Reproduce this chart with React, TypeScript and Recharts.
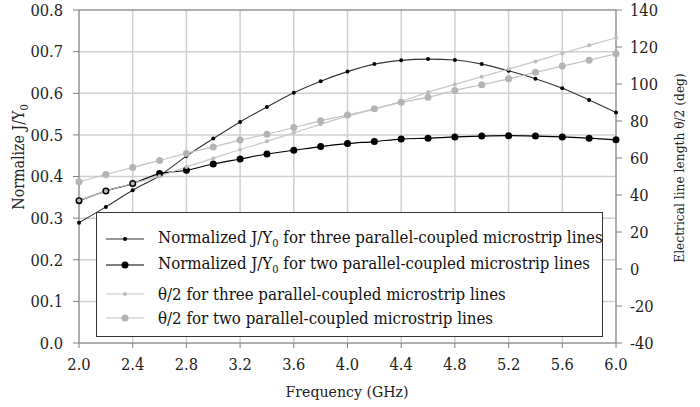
import React from "react";
import {
  LineChart,
  Line,
  XAxis,
  YAxis,
  CartesianGrid,
  ReferenceLine,
} from "recharts";

const FONT = "'DejaVu Serif Condensed', 'DejaVu Serif', serif";

// frequency points (GHz)
const freq = [2.0, 2.2, 2.4, 2.6, 2.8, 3.0, 3.2, 3.4, 3.6, 3.8, 4.0, 4.2, 4.4, 4.6, 4.8, 5.0, 5.2, 5.4, 5.6, 5.8, 6.0];

// normalized J/Y0 (left axis)
const jThree = [0.289, 0.327, 0.367, 0.402, 0.449, 0.491, 0.531, 0.567, 0.601, 0.629, 0.652, 0.67, 0.679, 0.682, 0.68, 0.67, 0.654, 0.635, 0.612, 0.584, 0.554];
const jTwo = [0.342, 0.365, 0.383, 0.407, 0.415, 0.43, 0.442, 0.454, 0.463, 0.472, 0.479, 0.484, 0.49, 0.492, 0.495, 0.497, 0.498, 0.497, 0.495, 0.492, 0.488];

// theta/2 in degrees (right axis)
const thetaThree = [37.0, 42.1, 46.2, 50.2, 55.2, 59.8, 64.6, 69.0, 73.6, 78.2, 82.6, 86.4, 90.6, 95.5, 99.8, 103.9, 108.1, 112.2, 116.6, 120.9, 125.0];
const thetaTwo = [47.1, 51.1, 54.9, 58.7, 62.5, 66.0, 69.7, 72.9, 76.5, 80.1, 83.2, 86.6, 90.1, 92.9, 96.5, 99.6, 102.8, 106.3, 109.7, 112.9, 116.3];

const xTicks = [2.0, 2.4, 2.8, 3.2, 3.6, 4.0, 4.4, 4.8, 5.2, 5.6, 6.0];
const leftTicks = [0, 0.1, 0.2, 0.3, 0.4, 0.5, 0.6, 0.7, 0.8];
const leftTickLabels = ["0.0", "00.1", "00.2", "00.3", "00.4", "00.5", "00.6", "00.7", "00.8"];
const rightTicks = [-40, -20, 0, 20, 40, 60, 80, 100, 120, 140];

const data = freq.map((f, i) => ({
  f,
  jThree: jThree[i],
  jTwo: jTwo[i],
  thetaThree: thetaThree[i],
  thetaTwo: thetaTwo[i],
}));

const legendRows = [
  { key: "jThree", stroke: "#333", dotFill: "#000", r: 2, pre: "Normalized J/Y", sub: "0", post: " for three parallel-coupled microstrip lines", gap: 14 },
  { key: "jTwo", stroke: "#000", dotFill: "#000", r: 3.5, pre: "Normalized J/Y", sub: "0", post: " for two parallel-coupled microstrip lines", gap: 2 },
  { key: "thetaThree", stroke: "#c8c8c8", dotFill: "#bdbdbd", r: 2, pre: "\u03b8/2 for three parallel-coupled microstrip lines", sub: "", post: "", gap: 5 },
  { key: "thetaTwo", stroke: "#c4c4c4", dotFill: "#b4b4b4", r: 3.5, pre: "\u03b8/2 for two parallel-coupled microstrip lines", sub: "", post: "", gap: 0 },
];

function LegendBox() {
  return (
    <div
      style={{
        position: "absolute",
        left: 96,
        top: 212,
        width: 505,
        height: 123,
        border: "1px solid #333",
        background: "#fff",
        fontFamily: FONT,
        fontSize: 16.7,
        color: "#111",
      }}
    >
      {legendRows.map((row) => (
        <div
          key={row.key}
          style={{ display: "flex", alignItems: "center", height: 24, marginTop: row.gap, whiteSpace: "nowrap" }}
        >
          <svg width={61} height={24} style={{ flex: "none" }}>
            <line x1={9} y1={12} x2={47} y2={12} stroke={row.stroke} strokeWidth={1.2} />
            <circle cx={28} cy={12} r={row.r} fill={row.dotFill} />
          </svg>
          <span>
            {row.pre}
            {row.sub && <sub style={{ fontSize: 11 }}>{row.sub}</sub>}
            {row.post}
          </span>
        </div>
      ))}
    </div>
  );
}

export default function App() {
  return (
    <div style={{ position: "absolute", left: 0, top: 0, width: 700, height: 407, background: "#fff" }}>
      <LineChart
        width={700}
        height={407}
        data={data}
        margin={{ top: 10, right: 0, bottom: 34, left: 0 }}
      >
        <CartesianGrid yAxisId="left" stroke="#d0d0d0" strokeWidth={1.5} />
        <XAxis
          dataKey="f"
          type="number"
          domain={[2, 6]}
          ticks={xTicks}
          tickFormatter={(v) => Number(v).toFixed(1)}
          height={30}
          tickSize={5}
          tickMargin={10}
          stroke="#808080"
          tick={{ fontSize: 16.3, fill: "#222", fontFamily: FONT }}
        />
        <YAxis
          yAxisId="left"
          domain={[0, 0.8]}
          ticks={leftTicks}
          tickFormatter={(v) => leftTickLabels[leftTicks.indexOf(v)] ?? String(v)}
          width={79}
          tickSize={6}
          tickMargin={10}
          stroke="#808080"
          tick={{ fontSize: 16.3, fill: "#222", fontFamily: FONT }}
        />
        <YAxis
          yAxisId="right"
          orientation="right"
          domain={[-40, 140]}
          ticks={rightTicks}
          width={84}
          tickSize={6}
          tickMargin={8}
          stroke="#808080"
          tick={{ fontSize: 16.3, fill: "#222", fontFamily: FONT }}
        />
        <ReferenceLine yAxisId="left" y={0.8} stroke="#808080" strokeWidth={1} />
        <Line
          yAxisId="left"
          dataKey="jThree"
          type="monotone"
          stroke="#333"
          strokeWidth={1.1}
          dot={{ r: 2, fill: "#000", stroke: "none" }}
          isAnimationActive={false}
        />
        <Line
          yAxisId="left"
          dataKey="jTwo"
          type="monotone"
          stroke="#000"
          strokeWidth={1.2}
          dot={{ r: 3.5, fill: "#000", stroke: "none" }}
          isAnimationActive={false}
        />
        <Line
          yAxisId="right"
          dataKey="thetaThree"
          type="monotone"
          stroke="#c8c8c8"
          strokeWidth={1.2}
          dot={{ r: 2, fill: "#bdbdbd", stroke: "none" }}
          isAnimationActive={false}
        />
        <Line
          yAxisId="right"
          dataKey="thetaTwo"
          type="monotone"
          stroke="#c4c4c4"
          strokeWidth={1.2}
          dot={{ r: 3.5, fill: "#b4b4b4", stroke: "none" }}
          isAnimationActive={false}
        />
      </LineChart>

      <LegendBox />

      <div
        style={{
          position: "absolute",
          left: 20,
          top: 157,
          transform: "translate(-50%, -50%) rotate(-90deg)",
          whiteSpace: "nowrap",
          fontFamily: FONT,
          fontSize: 15.8,
          color: "#222",
        }}
      >
        Normalize J/Y<sub style={{ fontSize: 11 }}>0</sub>
      </div>
      <div
        style={{
          position: "absolute",
          left: 679,
          top: 168,
          transform: "translate(-50%, -50%) rotate(-90deg)",
          whiteSpace: "nowrap",
          fontFamily: FONT,
          fontSize: 13.6,
          color: "#222",
        }}
      >
        Electrical line length θ/2 (deg)
      </div>
      <div
        style={{
          position: "absolute",
          left: 347,
          top: 391,
          transform: "translate(-50%, -50%)",
          whiteSpace: "nowrap",
          fontFamily: FONT,
          fontSize: 15.7,
          color: "#222",
        }}
      >
        Frequency (GHz)
      </div>
    </div>
  );
}
